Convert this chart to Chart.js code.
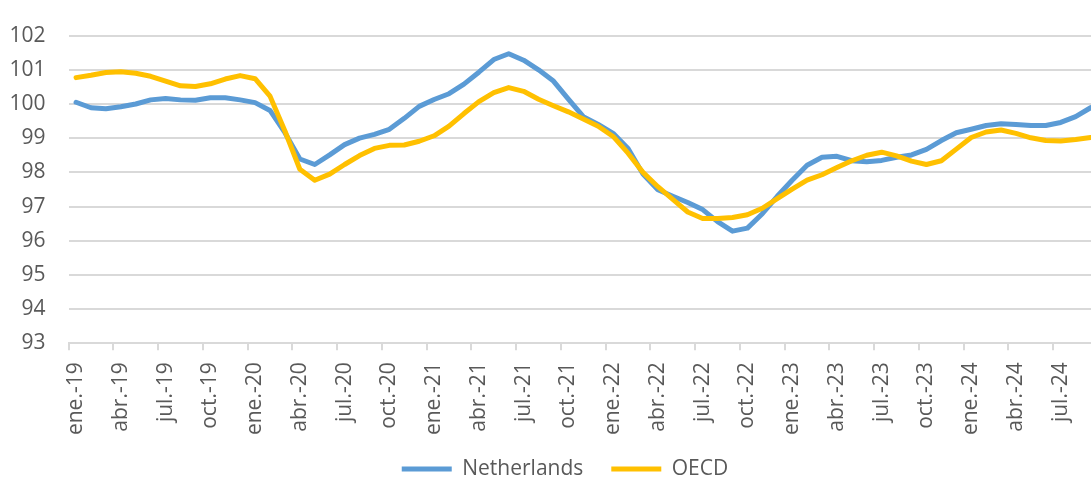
<!DOCTYPE html>
<html lang="es">
<head>
<meta charset="utf-8">
<title>Netherlands vs OECD</title>
<script src="https://cdn.jsdelivr.net/npm/chart.js@4"></script>
<style>
    html, body { margin: 0; padding: 0; background: #ffffff; overflow: hidden; }
    #marco { width: 1091px; height: 482px; overflow: hidden; }
</style>
</head>
<body>
<div id="marco">
    <canvas id="grafico" width="1098" height="502"></canvas>
</div>
<script>
// Meses y años del eje (se muestra una etiqueta cada 3 meses)
const meses = ['ene.', 'feb.', 'mar.', 'abr.', 'may.', 'jun.', 'jul.', 'ago.', 'sep.', 'oct.', 'nov.', 'dic.'];
const anios = ['19', '20', '21', '22', '23', '24'];
const ultimoMes = 9; // el último año llega hasta sep.

const categorias = [];
anios.forEach((a, k) => {
    const n = (k === anios.length - 1) ? ultimoMes : 12;
    for (let m = 0; m < n; m++) categorias.push(meses[m] + '-' + a);
});

// Valores (ene.-19 a sep.-24)
const netherlands = [
    100.05, 99.89, 99.86, 99.92, 100.00, 100.12, 100.16, 100.12, 100.11, 100.18, 100.18, 100.12,
    100.04, 99.81, 99.16, 98.39, 98.23, 98.51, 98.81, 99.00, 99.11, 99.26, 99.58, 99.93,
    100.13, 100.30, 100.58, 100.93, 101.30, 101.47, 101.28, 101.00, 100.67, 100.14, 99.63, 99.40,
    99.14, 98.70, 97.95, 97.49, 97.30, 97.12, 96.91, 96.56, 96.28, 96.37, 96.79, 97.30,
    97.77, 98.21, 98.44, 98.47, 98.34, 98.31, 98.35, 98.44, 98.51, 98.67, 98.93, 99.16,
    99.26, 99.37, 99.42, 99.40, 99.37, 99.37, 99.46, 99.63, 99.89
];
const oecd = [
    100.77, 100.84, 100.92, 100.94, 100.90, 100.81, 100.67, 100.53, 100.51, 100.59, 100.73, 100.83,
    100.74, 100.23, 99.21, 98.09, 97.77, 97.95, 98.23, 98.49, 98.70, 98.79, 98.80, 98.91,
    99.07, 99.35, 99.72, 100.07, 100.33, 100.48, 100.37, 100.14, 99.95, 99.77, 99.56, 99.35,
    99.05, 98.56, 98.00, 97.58, 97.21, 96.84, 96.65, 96.65, 96.68, 96.76, 96.95, 97.23,
    97.51, 97.77, 97.93, 98.14, 98.34, 98.50, 98.59, 98.48, 98.33, 98.23, 98.34, 98.68,
    99.02, 99.18, 99.24, 99.14, 99.01, 98.93, 98.92, 98.96, 99.02
];
const yMin = 93;
const yMax = 102;

window.onload = function () {

    Chart.defaults.font.family = "'Open Sans', sans-serif";
    Chart.defaults.color = '#595959';

    const gris = '#d9d9d9';

    // Mueve la leyenda para dejarla donde está en el original
    const moverLeyenda = {
        id: 'moverLeyenda',
        afterLayout(chart) {
            const l = chart.legend;
            l.left += 16; l.right += 16;
            l.top -= 12.5; l.bottom -= 12.5;
        }
    };

    const ctx = document.getElementById('grafico').getContext('2d');
    const chart = new Chart(ctx, {
        type: 'line',
        data: {
            labels: categorias,
            datasets: [{
                label: 'Netherlands',
                data: netherlands,
                borderColor: '#5b9bd5',
                backgroundColor: '#5b9bd5',
                borderWidth: 5,
                borderCapStyle: 'round',
                borderJoinStyle: 'round',
                pointRadius: 0,
                tension: 0,
                order: 1
            }, {
                label: 'OECD',
                data: oecd,
                borderColor: '#ffc000',
                backgroundColor: '#ffc000',
                borderWidth: 5,
                borderCapStyle: 'round',
                borderJoinStyle: 'round',
                pointRadius: 0,
                tension: 0,
                order: 0
            }]
        },
        options: {
            responsive: false,
            animation: false,
            layout: { padding: { left: 0, top: 21.7, right: 0, bottom: 0 } },
            plugins: {
                tooltip: { enabled: false },
                legend: {
                    position: 'bottom',
                    labels: {
                        usePointStyle: true,
                        pointStyle: 'line',
                        pointStyleWidth: 50,
                        padding: 28,
                        font: { size: 21 },
                        color: '#595959',
                        sort: (a, b) => a.datasetIndex - b.datasetIndex
                    }
                }
            },
            scales: {
                x: {
                    offset: true,
                    grid: {
                        offset: true,
                        drawOnChartArea: false,
                        drawTicks: true,
                        tickLength: 7,
                        lineWidth: 2,
                        color: c => (c.index !== undefined && c.index % 3 === 0) ? gris : 'rgba(0,0,0,0)'
                    },
                    border: { display: true, color: gris, width: 2 },
                    ticks: {
                        autoSkip: false,
                        maxRotation: 90,
                        minRotation: 90,
                        padding: 12,
                        font: { size: 21 },
                        color: '#595959',
                        callback: function (v, i) { return i % 3 === 0 ? categorias[i] : ''; }
                    },
                    afterFit: function (s) {
                        s.height = 99.7;
                        s.paddingLeft = 0;
                        s.paddingRight = 0;
                    }
                },
                y: {
                    min: yMin,
                    max: yMax,
                    grid: { color: gris, lineWidth: 2, drawTicks: false },
                    border: { display: false },
                    ticks: {
                        stepSize: 1,
                        padding: 23,
                        font: { size: 21 },
                        color: '#595959'
                    },
                    afterFit: function (s) { s.width = 68.6; }
                }
            }
        },
        plugins: [moverLeyenda]
    });

}
</script>
</body>
</html>
